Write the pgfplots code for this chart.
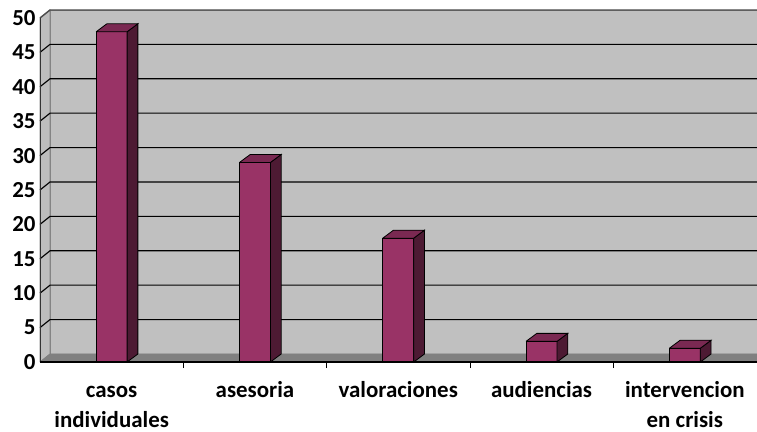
\documentclass[border=0pt]{standalone}
\usepackage{pgfplots}
\pgfplotsset{compat=1.18}
\usepackage{pgfplotstable}
\usepackage{fontspec}
\setmainfont{Carlito}
\definecolor{plum}{HTML}{993366}
\definecolor{sidec}{HTML}{4D1A33}
\definecolor{topc}{HTML}{7A2952}
\definecolor{wallc}{HTML}{C0C0C0}
\definecolor{leftc}{HTML}{BDBDBD}
\definecolor{floorc}{HTML}{808080}
\newcommand\lbl{\fontsize{23}{30}\selectfont\bfseries}
\pgfplotstableread{
x v
0.5 48
1.5 29
2.5 18
3.5 3
4.5 2
}\data
\begin{document}
\begin{tikzpicture}
\begin{axis}[
  at={(40bp,70bp)}, anchor=south west,
  scale only axis, width=716.5bp, height=352bp,
  xmin=0, xmax=5, ymin=0, ymax=51.163,
  clip=false,
  axis line style={draw=none},
  tick pos=left,
  ytick={0,5,...,50},
  xtick={0.5,1.5,2.5,3.5,4.5},
  xticklabels={{\strut casos\\individuales},{\strut asesoria},{\strut valoraciones},{\strut audiencias},{\strut intervencion\\en crisis}},
  major tick length=0pt,
  extra x ticks={1,2,3,4}, extra x tick labels={},
  extra x tick style={major tick length=6bp, tick align=outside, tick style={black, line width=0.8bp}},
  ticklabel style={font=\lbl},
  xticklabel style={align=center, anchor=north, yshift=-11bp},
  yticklabel style={xshift=-1bp},
  /pgf/number format/assume math mode=true,
]
% back wall
\addplot[fill=wallc, draw=gray, line width=0.8bp] coordinates {(0.0698,1.163) (5.0698,1.163) (5.0698,51.163) (0.0698,51.163) (0.0698,1.163)};
% left wall
\addplot[fill=leftc, draw=gray, line width=0.8bp] coordinates {(0,0) (0.0698,1.163) (0.0698,51.163) (0,50) (0,0)};
% floor
\addplot[fill=floorc, draw=gray, line width=0.6bp] coordinates {(0,0) (5,0) (5.0698,1.163) (0.0698,1.163) (0,0)};
% gridlines
\addplot[black, line width=1.1bp] coordinates {(0,5) (0.0698,6.163) (5.0698,6.163)};
\addplot[black, line width=1.1bp] coordinates {(0,10) (0.0698,11.163) (5.0698,11.163)};
\addplot[black, line width=1.1bp] coordinates {(0,15) (0.0698,16.163) (5.0698,16.163)};
\addplot[black, line width=1.1bp] coordinates {(0,20) (0.0698,21.163) (5.0698,21.163)};
\addplot[black, line width=1.1bp] coordinates {(0,25) (0.0698,26.163) (5.0698,26.163)};
\addplot[black, line width=1.1bp] coordinates {(0,30) (0.0698,31.163) (5.0698,31.163)};
\addplot[black, line width=1.1bp] coordinates {(0,35) (0.0698,36.163) (5.0698,36.163)};
\addplot[black, line width=1.1bp] coordinates {(0,40) (0.0698,41.163) (5.0698,41.163)};
\addplot[black, line width=1.1bp] coordinates {(0,45) (0.0698,46.163) (5.0698,46.163)};
\addplot[black!70, line width=1.4bp] coordinates {(0,50) (0.0698,51.163) (5.0698,51.163)};
% bars: front faces
\addplot[ybar, bar width=31bp, fill=plum, draw=black, line width=0.8bp] table[x=x,y=v]{\data};
% bars: side and top faces
\pgfplotsinvokeforeach{0,...,4}{
  \pgfplotstablegetelem{#1}{v}\of\data
  \pgfmathsetmacro\vv{\pgfplotsretval}
  \pgfmathsetmacro\vt{\vv+1.163}
  \pgfmathsetmacro\xl{#1+0.5-0.108}
  \pgfmathsetmacro\xr{#1+0.5+0.108}
  \pgfmathsetmacro\xrd{\xr+0.075}
  \pgfmathsetmacro\xld{\xl+0.075}
  \addplot[fill=sidec, draw=black, line width=0.8bp] coordinates {(\xr,0) (\xr,\vv) (\xrd,\vt) (\xrd,1.163) (\xr,0)};
  \addplot[fill=topc, draw=black, line width=0.8bp] coordinates {(\xl,\vv) (\xr,\vv) (\xrd,\vt) (\xld,\vt) (\xl,\vv)};
}
% axis lines
\addplot[black!80, line width=0.8bp] coordinates {(0,0) (0,50)};
\addplot[black, line width=1.2bp] coordinates {(0,0) (5,0)};
\end{axis}
\pgfresetboundingbox
\useasboundingbox (0,0) rectangle (757bp,432bp);
\end{tikzpicture}
\end{document}
